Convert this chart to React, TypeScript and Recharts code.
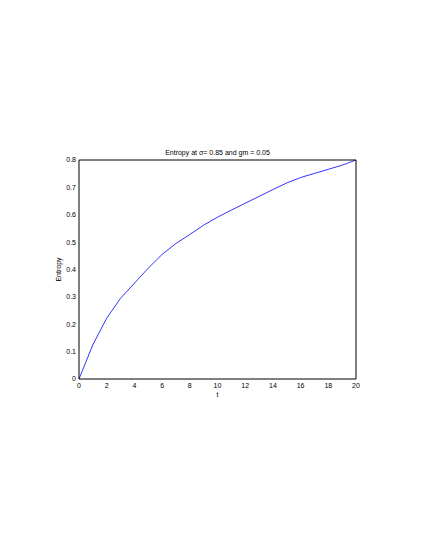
import React from "react";
import { LineChart, Line, XAxis, YAxis, Label } from "recharts";

// entropy curve
const tValues = [0, 1, 2, 3, 4, 5, 6, 7, 8, 9, 10, 11, 12, 13, 14, 15, 16, 17, 18, 19, 20];
const entropyValues = [
  0, 0.125, 0.222, 0.295, 0.35, 0.405, 0.455, 0.495, 0.528, 0.562, 0.591, 0.617,
  0.642, 0.667, 0.692, 0.716, 0.736, 0.751, 0.766, 0.781, 0.8,
];
const xTicks = [0, 2, 4, 6, 8, 10, 12, 14, 16, 18, 20];
const yTicks = [0, 0.1, 0.2, 0.3, 0.4, 0.5, 0.6, 0.7, 0.8];

const titleText = "Entropy at σ= 0.85 and gm = 0.05";

const font = "'Liberation Sans', Arial, sans-serif";
const tickStyle = { fontSize: 7, fill: "#000", fontFamily: font };

export default function App() {
  const data = tValues.map((t, i) => ({ t, entropy: entropyValues[i] }));

  // inner tick marks on all four sides (matlab style box)
  const tickOnly = { stroke: "#000", tickSize: 4, tick: false as const, mirror: true, interval: 0 as const };

  return (
    <div style={{ position: "absolute", left: 0, top: 0, width: 425, height: 550, background: "#fff" }}>
      <LineChart
        width={425}
        height={550}
        data={data}
        margin={{ top: 160, right: 69, bottom: 141, left: 49 }}
      >
        <XAxis
          xAxisId="bottomTicks"
          dataKey="t"
          type="number"
          domain={[0, 20]}
          ticks={xTicks}
          height={1}
          {...tickOnly}
        />
        <XAxis
          xAxisId="bottom"
          dataKey="t"
          type="number"
          domain={[0, 20]}
          ticks={xTicks}
          height={30}
          axisLine={false}
          tickLine={false}
          tickSize={0}
          tickMargin={4}
          tick={tickStyle}
          interval={0}
        >
          <Label value="t" position="insideBottom" offset={12} style={{ fontSize: 7, fill: "#000", fontFamily: font }} />
        </XAxis>
        <XAxis
          xAxisId="top"
          dataKey="t"
          type="number"
          orientation="top"
          domain={[0, 20]}
          ticks={xTicks}
          height={1}
          {...tickOnly}
        />
        <YAxis
          yAxisId="leftTicks"
          type="number"
          domain={[0, 0.8]}
          ticks={yTicks}
          width={1}
          {...tickOnly}
        />
        <YAxis
          yAxisId="left"
          type="number"
          domain={[0, 0.8]}
          ticks={yTicks}
          width={30}
          axisLine={false}
          tickLine={false}
          tickSize={0}
          tickMargin={3}
          tick={tickStyle}
          interval={0}
        >
          <Label value="Entropy" angle={-90} position="insideLeft" offset={10} style={{ fontSize: 7, fill: "#000", fontFamily: font, textAnchor: "middle" }} />
        </YAxis>
        <YAxis
          yAxisId="right"
          type="number"
          orientation="right"
          domain={[0, 0.8]}
          ticks={yTicks}
          width={1}
          {...tickOnly}
        />
        <Line
          xAxisId="bottom"
          yAxisId="left"
          type="linear"
          dataKey="entropy"
          stroke="#0000ff"
          strokeWidth={0.8}
          dot={false}
          isAnimationActive={false}
        />
        <text x={217.5} y={155} textAnchor="middle" fontSize={7} fontFamily={font} fill="#000">
          {titleText}
        </text>
      </LineChart>
    </div>
  );
}
